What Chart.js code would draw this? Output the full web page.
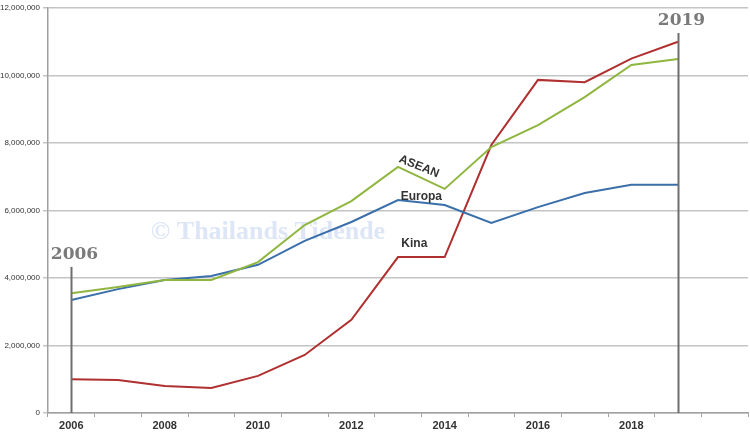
<!DOCTYPE html>
<html>
<head>
<meta charset="utf-8">
<script src="https://cdn.jsdelivr.net/npm/chart.js@4/dist/chart.umd.min.js"></script>
<style>
  html, body { margin: 0; padding: 0; background: #fff; }
  #wrap { width: 750px; height: 440px; position: relative; }
</style>
</head>
<body>
<div id="wrap"><canvas id="tradeChart"></canvas></div>
<script>
// Data
const years = ['2006','2007','2008','2009','2010','2011','2012','2013','2014','2015','2016','2017','2018','2019','2020'];
const xTickLabels = ['2006','','2008','','2010','','2012','','2014','','2016','','2018','',''];
const europa = [3350000, 3670000, 3940000, 4060000, 4390000, 5100000, 5660000, 6310000, 6160000, 5630000, 6100000, 6520000, 6760000, 6760000];
const asean  = [3550000, 3730000, 3940000, 3940000, 4470000, 5570000, 6280000, 7290000, 6640000, 7880000, 8530000, 9360000, 10310000, 10490000];
const kina   = [1000000,  980000,  800000,  740000, 1100000, 1720000, 2760000, 4620000, 4620000, 7940000, 9870000, 9800000, 10500000, 11000000];
const yTicks = [0, 2000000, 4000000, 6000000, 8000000, 10000000, 12000000];

// marker years with the value where their line stops
const markerYears = ['2006', '2019'];
const markerTops = [4330000, 11260000];

// series names written on the chart: category index + offset, value, angle
const seriesNames = ['ASEAN', 'Europa', 'Kina'];
const namePos = [7.45, 7.5, 7.35];
const nameVal = [7300000, 6420000, 5020000];
const nameAngle = [22, 0, 0];

const overlay = {
    id: 'overlay',
    beforeDatasetsDraw(chart) {
        const { ctx, chartArea } = chart;
        ctx.save();
        ctx.font = 'bold 26px "Liberation Serif"';
        ctx.fillStyle = '#dde6f6';
        ctx.textAlign = 'center';
        ctx.textBaseline = 'alphabetic';
        ctx.fillText('\u00a9 Thailands Tidende', chartArea.left + 220, 239);
        ctx.restore();
    },
    afterDatasetsDraw(chart) {
        const { ctx } = chart;
        const x = chart.scales.x, y = chart.scales.y;
        const step = x.getPixelForValue(1) - x.getPixelForValue(0);
        ctx.save();
        markerYears.forEach((yr, i) => {
            const px = Math.round(x.getPixelForValue(years.indexOf(yr))) + 0.5;
            const top = y.getPixelForValue(markerTops[i]);
            ctx.strokeStyle = '#6e6e6e';
            ctx.lineWidth = 2;
            ctx.beginPath();
            ctx.moveTo(px, top);
            ctx.lineTo(px, y.getPixelForValue(0));
            ctx.stroke();
            ctx.font = 'bold 17px "DejaVu Serif"';
            ctx.fillStyle = '#7a7a7a';
            ctx.textAlign = 'center';
            ctx.textBaseline = 'bottom';
            ctx.fillText(yr, px + 3, top - 4);
        });
        seriesNames.forEach((name, i) => {
            const px = x.getPixelForValue(Math.floor(namePos[i])) + (namePos[i] % 1) * step;
            const py = y.getPixelForValue(nameVal[i]);
            ctx.save();
            ctx.translate(px, py);
            ctx.rotate(nameAngle[i] * Math.PI / 180);
            ctx.font = 'bold 12px "Liberation Sans"';
            ctx.fillStyle = '#333';
            ctx.textAlign = 'center';
            ctx.textBaseline = 'middle';
            ctx.fillText(name, 0, 0);
            ctx.restore();
        });
        ctx.restore();
    }
};

const initChart = () => {
    const ctx = document.getElementById('tradeChart').getContext('2d');
    new Chart(ctx, {
        type: 'line',
        data: {
            labels: years,
            datasets: [
                { label: 'ASEAN', data: asean, borderColor: '#8fb63e' },
                { label: 'Europa', data: europa, borderColor: '#3a6faa' },
                { label: 'Kina', data: kina, borderColor: '#b02f2f' }
            ].map(d => Object.assign(d, {
                borderWidth: 2,
                tension: 0,
                pointRadius: 0,
                fill: false
            }))
        },
        options: {
            responsive: true,
            maintainAspectRatio: false,
            animation: false,
            layout: { padding: { top: 8, right: 2, left: 0, bottom: 0 } },
            plugins: {
                legend: { display: false },
                tooltip: { enabled: false }
            },
            scales: {
                x: {
                    type: 'category',
                    offset: true,
                    afterFit: s => { s.height = 27; },
                    border: { color: '#a0a0a0', width: 1.5 },
                    grid: {
                        offset: true,
                        drawOnChartArea: false,
                        drawTicks: true,
                        tickLength: 4,
                        color: '#a0a0a0'
                    },
                    ticks: {
                        autoSkip: false,
                        maxRotation: 0,
                        padding: 2,
                        color: '#333',
                        font: { family: '"Liberation Sans"', size: 11, weight: 'bold' },
                        callback: (v, i) => xTickLabels[i]
                    }
                },
                y: {
                    min: 0,
                    max: 12000000,
                    afterFit: s => { s.width = 48; },
                    afterBuildTicks: s => { s.ticks = yTicks.map(v => ({ value: v })); },
                    border: { color: '#a0a0a0', width: 1.5 },
                    grid: {
                        color: '#c4c4c4',
                        lineWidth: 1.5,
                        tickLength: 5
                    },
                    ticks: {
                        padding: 3,
                        color: '#333',
                        font: { family: '"Liberation Sans"', size: 8 },
                        callback: v => v.toLocaleString('en-US')
                    }
                }
            }
        },
        plugins: [overlay]
    });
};

document.addEventListener('DOMContentLoaded', initChart);
</script>
</body>
</html>
